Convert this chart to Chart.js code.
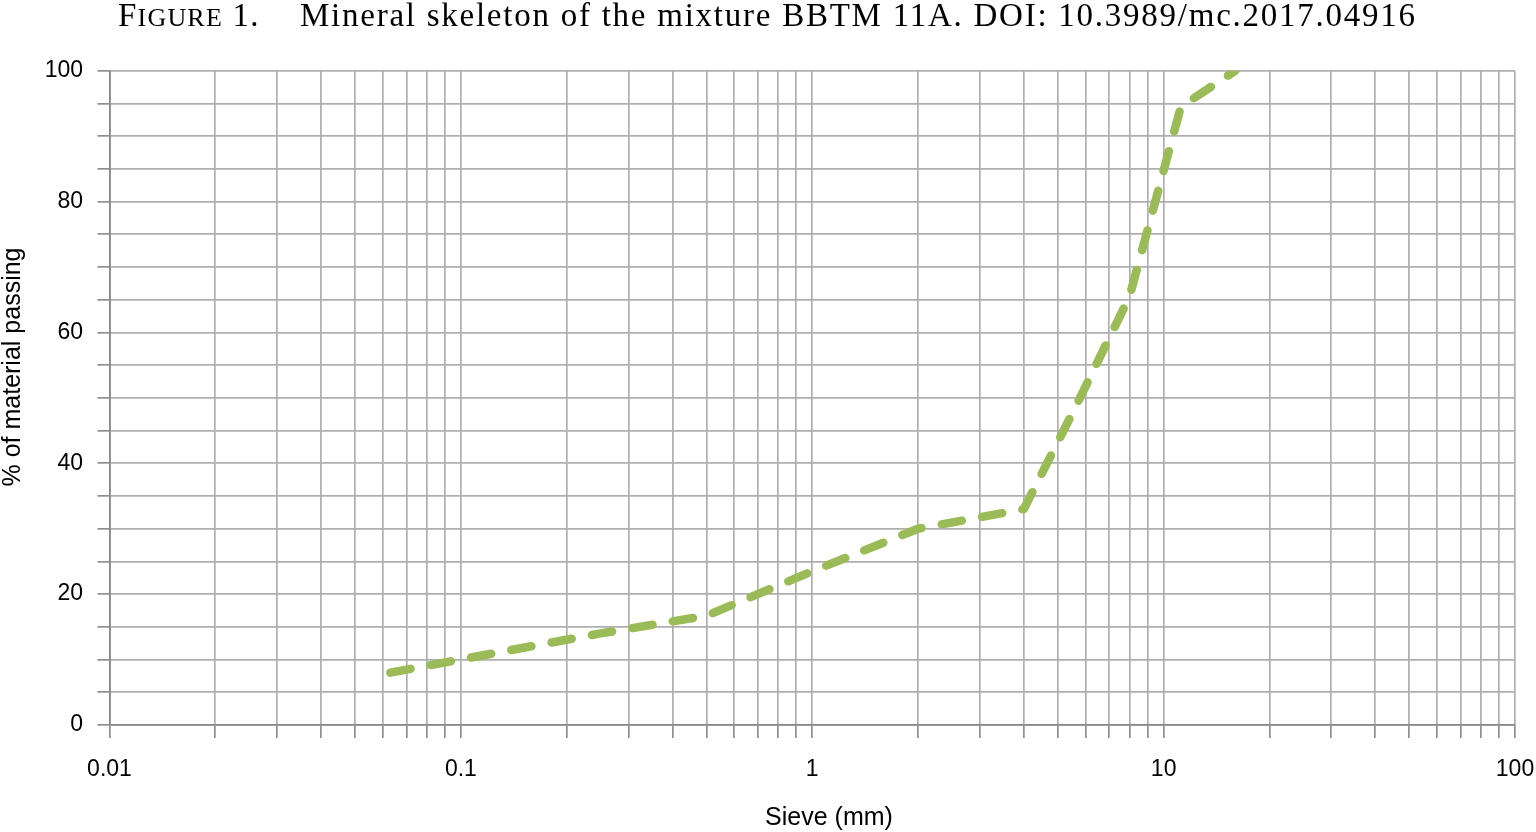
<!DOCTYPE html>
<html>
<head>
<meta charset="utf-8">
<script src="https://cdn.jsdelivr.net/npm/chart.js@4"></script>
<style>
  html, body { margin: 0; padding: 0; background: #fff; overflow: hidden; }
  #wrap { position: relative; width: 1536px; height: 832px; }
  #c { display: block; }
</style>
</head>
<body>
<div id="wrap"><canvas id="c"></canvas></div>
<script>
// ---- data ----
const sieveSizes = [0.063, 0.125, 0.25, 0.5, 1, 2, 4, 5.6, 8, 11.2, 16];
const passing    = [8, 11, 14, 16.7, 23.5, 30, 33, 48.5, 65.5, 94.5, 100];

// ---- axis ticks ----
const xTickValues = [
  0.01, 0.02, 0.03, 0.04, 0.05, 0.06, 0.07, 0.08, 0.09,
  0.1, 0.2, 0.3, 0.4, 0.5, 0.6, 0.7, 0.8, 0.9,
  1, 2, 3, 4, 5, 6, 7, 8, 9,
  10, 20, 30, 40, 50, 60, 70, 80, 90,
  100
];
const xLabeledTicks = [0.01, 0.1, 1, 10, 100];
const xTickLabels   = ['0.01', '0.1', '1', '10', '100'];
const yLabeledTicks = [0, 20, 40, 60, 80, 100];
const yTickLabels   = ['0', '20', '40', '60', '80', '100'];

// ---- texts ----
const figCapBig   = 'F';
const figCapSmall = 'IGURE';
const figNumber   = ' 1.';
const figTitle    = 'Mineral skeleton of the mixture BBTM 11A. DOI: 10.3989/mc.2017.04916';
const xTitle      = 'Sieve (mm)';
const yTitle      = '% of material passing';

const SANS  = "'Liberation Sans', Arial, sans-serif";
const SERIF = "'Liberation Serif', 'Times New Roman', serif";

const textPlugin = {
  id: 'figureTexts',
  afterDraw(chart) {
    const ctx = chart.ctx;
    ctx.save();
    ctx.fillStyle = '#000';
    ctx.textAlign = 'left';
    ctx.textBaseline = 'alphabetic';
    const base = 25.5;
    // caption prefix in small caps
    let x = 118;
    ctx.letterSpacing = '1.2px';
    ctx.font = '33px ' + SERIF;
    ctx.fillText(figCapBig, x, base);
    x += ctx.measureText(figCapBig).width;
    ctx.font = '26px ' + SERIF;
    ctx.fillText(figCapSmall, x, base);
    x += ctx.measureText(figCapSmall).width;
    ctx.font = '33px ' + SERIF;
    ctx.fillText(figNumber, x, base);
    // caption text stretched to the reference width
    ctx.font = '33px ' + SERIF;
    ctx.letterSpacing = '0px';
    const target = 1415 - 300;
    const natural = ctx.measureText(figTitle).width;
    const extra = (target - natural) / (figTitle.length - 1);
    ctx.letterSpacing = extra.toFixed(2) + 'px';
    ctx.fillText(figTitle, 300, base);
    ctx.letterSpacing = '0px';

    ctx.font = '25px ' + SANS;
    ctx.textAlign = 'center';
    ctx.textBaseline = 'middle';
    ctx.fillText(xTitle, 829, 818);

    ctx.translate(13.5, 367);
    ctx.rotate(-Math.PI / 2);
    ctx.fillText(yTitle, 0, 0);
    ctx.restore();
  }
};

const points = sieveSizes.map((s, i) => ({ x: s, y: passing[i] }));

new Chart(document.getElementById('c'), {
  type: 'scatter',
  data: {
    datasets: [{
      data: points,
      showLine: true,
      borderColor: '#9bbb59',
      backgroundColor: '#9bbb59',
      borderWidth: 8.5,
      borderDash: [20.5, 20.5],
      borderCapStyle: 'round',
      borderJoinStyle: 'round',
      pointRadius: 0,
      pointHoverRadius: 0,
      tension: 0
    }]
  },
  options: {
    responsive: true,
    maintainAspectRatio: false,
    animation: false,
    devicePixelRatio: 1,
    layout: { padding: { left: 0, right: 21, top: 70.7, bottom: 0 } },
    plugins: {
      legend: { display: false },
      title: { display: false },
      tooltip: { enabled: false }
    },
    scales: {
      x: {
        type: 'logarithmic',
        position: 'bottom',
        min: 0.01,
        max: 100,
        afterBuildTicks(scale) {
          scale.ticks = xTickValues.map(v => ({ value: v }));
        },
        afterFit(scale) {
          scale.height = 107;
          scale.paddingLeft = 0;
          scale.paddingRight = 0;
        },
        ticks: {
          autoSkip: false,
          maxRotation: 0,
          minRotation: 0,
          padding: 18,
          color: '#000',
          font: { family: SANS, size: 23 },
          callback(value, index) {
            const v = xTickValues[index];
            const k = xLabeledTicks.indexOf(v);
            return k >= 0 ? xTickLabels[k] : '';
          }
        },
        grid: {
          color: '#afafaf',
          lineWidth: 1.7,
          tickColor: '#8f8f8f',
          tickLength: 13,
          drawTicks: true
        },
        border: { color: '#8a8a8a', width: 1.8 },
        title: { display: false }
      },
      y: {
        type: 'linear',
        position: 'left',
        min: 0,
        max: 100,
        afterFit(scale) {
          scale.width = 109.5;
          scale.paddingTop = 0;
          scale.paddingBottom = 0;
        },
        ticks: {
          stepSize: 5,
          autoSkip: false,
          padding: 14.5,
          color: '#000',
          font: { family: SANS, size: 23 },
          callback(value) {
            const k = yLabeledTicks.indexOf(value);
            return k >= 0 ? yTickLabels[k] : '';
          }
        },
        grid: {
          color: '#afafaf',
          lineWidth: 1.7,
          tickColor: '#8f8f8f',
          tickLength: 12,
          drawTicks: true
        },
        border: { color: '#8a8a8a', width: 1.8 },
        title: { display: false }
      }
    }
  },
  plugins: [textPlugin]
});
</script>
</body>
</html>
